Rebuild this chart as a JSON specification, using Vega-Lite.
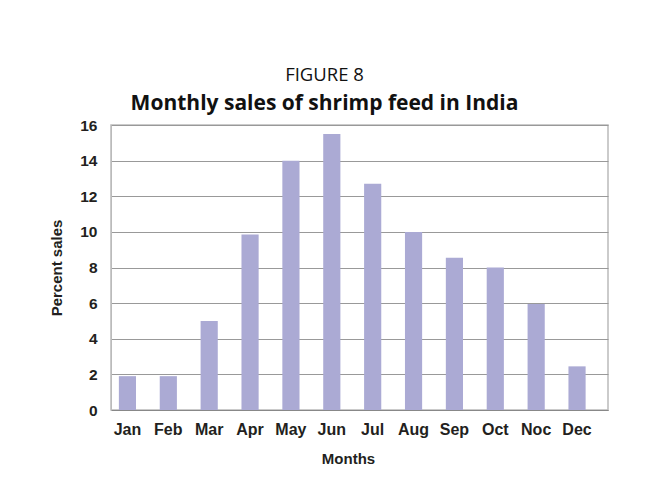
{
  "$schema": "https://vega.github.io/schema/vega-lite/v6.json",
  "width": 497,
  "height": 285,
  "autosize": {"type": "none"},
  "padding": {"left": 111, "top": 125, "right": 40, "bottom": 71},
  "background": "white",
  "title": {
    "text": "FIGURE 8",
    "subtitle": "Monthly sales of shrimp feed in India",
    "anchor": "middle",
    "dx": -35,
    "offset": 4,
    "font": "Open Sans",
    "fontSize": 18.5,
    "fontWeight": "normal",
    "color": "#111111",
    "subtitleFont": "Open Sans",
    "subtitleFontSize": 21,
    "subtitleFontWeight": "bold",
    "subtitleColor": "#111111",
    "subtitlePadding": 9
  },
  "data": {
    "values": [
      {"month": "Jan", "sales": 1.9},
      {"month": "Feb", "sales": 1.9},
      {"month": "Mar", "sales": 5.0},
      {"month": "Apr", "sales": 9.85},
      {"month": "May", "sales": 14.0},
      {"month": "Jun", "sales": 15.5},
      {"month": "Jul", "sales": 12.7},
      {"month": "Aug", "sales": 10.0},
      {"month": "Sep", "sales": 8.55},
      {"month": "Oct", "sales": 8.0},
      {"month": "Noc", "sales": 5.95},
      {"month": "Dec", "sales": 2.45}
    ]
  },
  "mark": {"type": "bar", "color": "#abaad4"},
  "encoding": {
    "x": {
      "field": "month",
      "type": "nominal",
      "sort": null,
      "scale": {"paddingInner": 0.58, "paddingOuter": 0.37, "align": 0.26},
      "axis": {
        "title": "Months",
        "labelAngle": 0,
        "ticks": false,
        "labelPadding": 11,
        "labelFont": "Liberation Sans",
        "labelFontSize": 16,
        "labelFontWeight": "bold",
        "labelColor": "#231f20",
        "domainColor": "#888888",
        "titleFont": "Liberation Sans",
        "titleFontSize": 15,
        "titleFontWeight": "bold",
        "titleColor": "#231f20",
        "titlePadding": 14,
        "titleX": 237
      }
    },
    "y": {
      "field": "sales",
      "type": "quantitative",
      "scale": {"domain": [0, 16]},
      "axis": {
        "title": "Percent sales",
        "values": [0, 2, 4, 6, 8, 10, 12, 14, 16],
        "ticks": false,
        "labelPadding": 14,
        "labelFont": "Liberation Sans",
        "labelFontSize": 15.5,
        "labelFontWeight": "bold",
        "labelColor": "#231f20",
        "domainColor": "#bbbbbb",
        "gridColor": "#999999",
        "gridOpacity": 1,
        "titleFont": "Liberation Sans",
        "titleFontSize": 15,
        "titleFontWeight": "bold",
        "titleColor": "#231f20",
        "titlePadding": 15
      }
    }
  },
  "config": {
    "view": {"stroke": "#bbbbbb", "strokeWidth": 1.5}
  }
}
